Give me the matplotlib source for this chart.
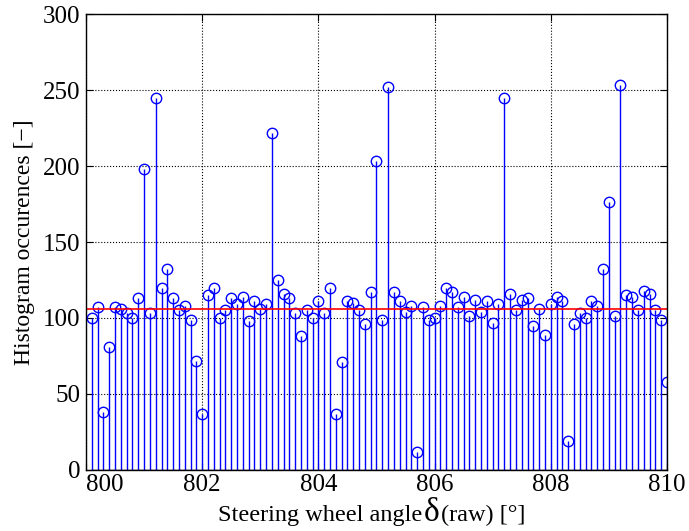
import numpy as np
import matplotlib
matplotlib.use('Agg')
import matplotlib.pyplot as plt
from matplotlib.offsetbox import TextArea, HPacker, AnchoredOffsetbox

# steering wheel angle bins (raw), 0.1 deg steps
angles = np.round(np.arange(800.1, 810.05, 0.1), 1)

counts = [100, 107, 38, 81, 107, 106, 103, 100, 113, 198,
          103, 245, 120, 132, 113, 105, 108, 99, 72, 37,
          115, 120, 100, 105, 113, 109, 114, 98, 111, 106,
          109, 222, 125, 116, 113, 103, 88, 105, 100, 111,
          103, 120, 37, 71, 111, 110, 105, 96, 117, 203,
          99, 252, 117, 111, 104, 108, 12, 107, 99, 100,
          108, 120, 117, 107, 114, 101, 112, 104, 111, 97,
          109, 245, 116, 105, 112, 113, 95, 106, 89, 109,
          114, 111, 19, 96, 103, 100, 111, 108, 132, 176,
          101, 253, 115, 114, 105, 118, 116, 105, 99, 58]

mean_level = 106

plt.rcParams['font.family'] = ['Liberation Serif', 'DejaVu Serif']

fig = plt.figure(figsize=(6.89, 5.31), dpi=100)
ax = fig.add_axes([0.1248, 0.1149, 0.8432, 0.8587])

markers, stems, base = ax.stem(angles, counts, linefmt='b-', markerfmt='o', basefmt='k-')
plt.setp(stems, linewidth=1.0, color='#0000ff')
plt.setp(markers, markerfacecolor='none', markeredgecolor='#0000ff',
         markersize=7.5, markeredgewidth=1.0)
plt.setp(base, linewidth=1.0)

ax.axhline(mean_level, color='red', linewidth=1.2)

ax.set_xlim(800, 810)
ax.set_ylim(0, 300)
ax.set_xticks(np.arange(800, 811, 2))
ax.set_yticks(np.arange(0, 301, 50))
ax.grid(True, color='black', linestyle=':', linewidth=0.8)
ax.set_axisbelow(True)
ax.tick_params(direction='in', top=True, right=True, labelsize=18, length=5)
ax.tick_params(axis='x', pad=3)
ax.tick_params(axis='y', pad=4)
for s in ax.spines.values():
    s.set_linewidth(1.0)

# first x label starts at the corner, as in the original export
ax.xaxis.get_major_ticks()[0].label1.set_horizontalalignment('left')

ax.set_ylabel('Histogram occurences [−]', fontsize=17, labelpad=6)

# x label with a larger delta
parts = [TextArea('Steering wheel angle', textprops=dict(fontsize=17.5)),
         TextArea('δ', textprops=dict(fontsize=24)),
         TextArea('(raw) [°]', textprops=dict(fontsize=17.5))]
box = HPacker(children=parts, align='baseline', pad=0, sep=1)
anch = AnchoredOffsetbox(loc='upper center', child=box, pad=0, borderpad=0,
                         frameon=False, bbox_to_anchor=(0.492, -0.06),
                         bbox_transform=ax.transAxes)
ax.add_artist(anch)

fig.savefig('out.png', dpi=100)
